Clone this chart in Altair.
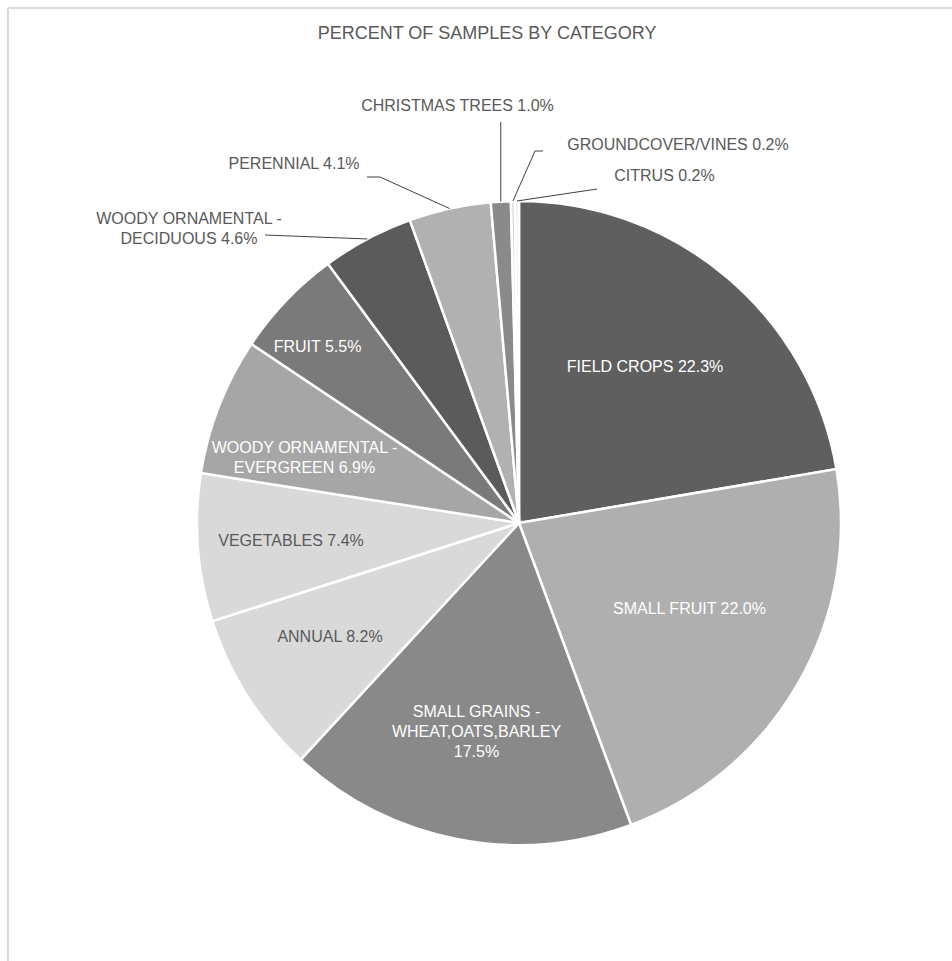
import math
import altair as alt
import pandas as pd

# ---------------- data ----------------
categories = [
    "Field crops", "Small Fruit", "Small Grains - wheat,oats,barley", "Annual",
    "Vegetables", "Woody ornamental - Evergreen", "Fruit",
    "Woody ornamental - Deciduous", "Perennial", "Christmas trees",
    "Groundcover/vines", "Citrus",
]
values = [22.3, 22.0, 17.5, 8.2, 7.4, 6.9, 5.5, 4.6, 4.1, 1.0, 0.2, 0.2]
slice_colors = ["#5f5f5f", "#afafaf", "#898989", "#d9d9d9", "#d9d9d9", "#a6a6a6",
                "#7a7a7a", "#5b5b5b", "#b1b1b1", "#8a8a8a", "#d9d9d9", "#f2f2f2"]
label_text = [
    "FIELD CROPS 22.3%", "SMALL FRUIT 22.0%",
    "SMALL GRAINS -\nWHEAT,OATS,BARLEY\n17.5%", "ANNUAL 8.2%",
    "VEGETABLES 7.4%", "WOODY ORNAMENTAL -\nEVERGREEN 6.9%", "FRUIT 5.5%",
    "WOODY ORNAMENTAL -\nDECIDUOUS 4.6%", "PERENNIAL 4.1%",
    "CHRISTMAS TREES 1.0%", "GROUNDCOVER/VINES 0.2%", "CITRUS 0.2%",
]
title_text = "PERCENT OF SAMPLES BY CATEGORY"

# ---------------- layout ----------------
R = 322
PAD_L, PAD_T = 197, 201
W = H = 2 * R
FONT = "Liberation Sans"
DARK = "#595959"
LH = 20
label_color = ["#ffffff", "#ffffff", "#ffffff", DARK, DARK, "#ffffff", "#ffffff",
               DARK, DARK, DARK, DARK, DARK]
# label block centre, offset from pie centre in pixels (screen down)
label_pos = [
    (126, -156.5), (170.5, 86), (-42.5, 209), (-189, 114), (-228, 17.5),
    (-214.5, -65.5), (-201.5, -176), (-330, -294.5), (-225, -359),
    (-61.5, -417), (159, -378.5), (145.5, -347.5),
]
# leader line bend/end points for outside labels
leader_pts = {
    7: [(-254, -288)],
    8: [(-139, -346), (-152, -346)],
    9: [(None, -401)],
    10: [(16, -372), (24, -372)],
    11: [(78, -334)],
}

total = sum(values)
mids = []
cum = 0.0
for v in values:
    mids.append((cum + v / 2) / total * 2 * math.pi)
    cum += v

df = pd.DataFrame({
    "category": categories, "value": values,
    "order": list(range(len(values))), "color": slice_colors,
})

first_line_y = [p[1] - (t.count("\n")) * LH / 2 for p, t in zip(label_pos, label_text)]
labels = pd.DataFrame({
    "category": categories, "text": label_text, "tcolor": label_color,
    "lx": [p[0] for p in label_pos], "ly": first_line_y,
})

rows = []
for i, pts in leader_pts.items():
    ex, ey = R * math.sin(mids[i]), -R * math.cos(mids[i])
    rows.append({"category": categories[i], "seq": 0, "x": ex, "y": ey})
    for k, (px, py) in enumerate(pts):
        rows.append({"category": categories[i], "seq": k + 1,
                     "x": ex if px is None else px, "y": py})
leaders = pd.DataFrame(rows)

xs = alt.Scale(domain=[-R, R], nice=False, zero=False)
ys = alt.Scale(domain=[-R, R], nice=False, zero=False, reverse=True)

pie = alt.Chart(df).mark_arc(outerRadius=R, stroke="white", strokeWidth=2.5).encode(
    theta=alt.Theta("value:Q", stack=True),
    order=alt.Order("order:Q"),
    color=alt.Color("color:N", scale=None),
)

lines = alt.Chart(leaders).mark_line(color="#404040", strokeWidth=1).encode(
    x=alt.X("x:Q", scale=xs, axis=None),
    y=alt.Y("y:Q", scale=ys, axis=None),
    detail="category:N",
    order=alt.Order("seq:Q"),
)

text = alt.Chart(labels).mark_text(
    font=FONT, fontSize=16, lineBreak="\n", lineHeight=LH,
    align="center", baseline="middle",
).encode(
    x=alt.X("lx:Q", scale=xs, axis=None),
    y=alt.Y("ly:Q", scale=ys, axis=None),
    text="text:N",
    color=alt.Color("tcolor:N", scale=None),
)

title = alt.Chart(pd.DataFrame({"t": [title_text]})).mark_text(
    font=FONT, fontSize=18, color=DARK, align="center", baseline="middle",
).encode(x=alt.value(487 - PAD_L), y=alt.value(33.5 - PAD_T), text="t:N")

border_h = alt.Chart(df).mark_rule(color="#d9d9d9", strokeWidth=1).encode(
    x=alt.value(8 - PAD_L), x2=alt.value(952 - PAD_L), y=alt.value(8 - PAD_T)
)
border_v = alt.Chart(df).mark_rule(color="#d9d9d9", strokeWidth=1).encode(
    x=alt.value(8 - PAD_L), y=alt.value(8 - PAD_T), y2=alt.value(961 - PAD_T)
)

chart = alt.layer(border_h, border_v, pie, lines, text, title).resolve_scale(
    color="independent"
).properties(
    width=W, height=H,
    autosize=alt.AutoSizeParams(type="none"),
    padding={"left": PAD_L, "top": PAD_T, "right": 952 - PAD_L - W,
             "bottom": 961 - PAD_T - H},
).configure(background="white", view=alt.ViewConfig(stroke=None))

chart.save("out.html", embed_options={"renderer": "svg", "actions": False})
